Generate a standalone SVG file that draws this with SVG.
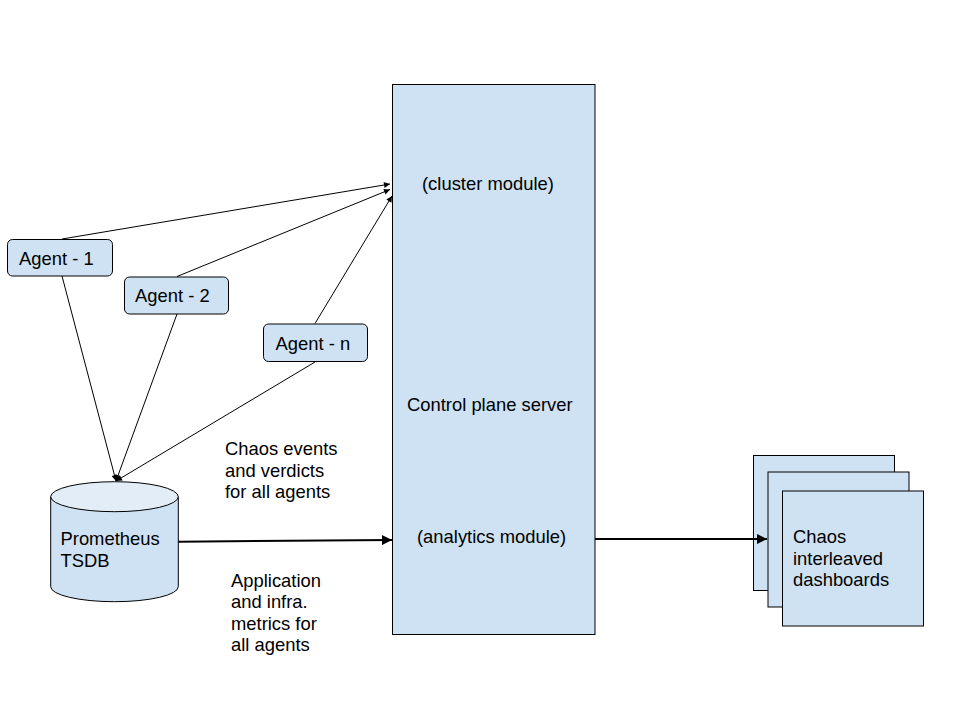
<svg xmlns="http://www.w3.org/2000/svg" width="960" height="720" viewBox="0 0 960 720">
<defs>
<style>
.box{fill:#cfe2f3;stroke:#000;stroke-width:1}
.t{font-family:"Liberation Sans",Arial,sans-serif;font-size:18.4px;fill:#000}
.thin{stroke:#000;stroke-width:1;fill:none}
.thick{stroke:#000;stroke-width:2;fill:none}
</style>
<marker id="ah" viewBox="0 0 10 10" refX="10" refY="5" markerWidth="7" markerHeight="6" markerUnits="userSpaceOnUse" orient="auto">
<path d="M0,0 L10,5 L0,10 Z" fill="#000"/>
</marker>
<marker id="ahb" viewBox="0 0 10 10" refX="10" refY="5" markerWidth="14" markerHeight="10" markerUnits="userSpaceOnUse" orient="auto">
<path d="M0,0 L10,5 L0,10 Z" fill="#000"/>
</marker>
</defs>
<rect width="960" height="720" fill="#fff"/>

<g id="control-plane">
<rect class="box" x="392.5" y="84.5" width="202.5" height="550"/>
<text class="t" x="422" y="190">(cluster module)</text>
<text class="t" x="407" y="411">Control plane server</text>
<text class="t" x="417" y="543">(analytics module)</text>
</g>

<g id="agent-1">
<rect class="box" x="7.5" y="239.5" width="105" height="36.5" rx="5"/>
<text class="t" x="19" y="264.5">Agent - 1</text>
</g>
<g id="agent-2">
<rect class="box" x="124.5" y="277" width="104" height="37" rx="5"/>
<text class="t" x="135" y="302">Agent - 2</text>
</g>
<g id="agent-n">
<rect class="box" x="263.5" y="324" width="104" height="37.5" rx="5"/>
<text class="t" x="275.5" y="350">Agent - n</text>
</g>

<g id="prometheus">
<path class="box" d="M50.7,496.7 V586.7 A63.8,15 0 0 0 178.3,586.7 V496.7"/>
<ellipse cx="114.5" cy="496.7" rx="63.8" ry="15" fill="#e3edf8" stroke="#000" stroke-width="1"/>
<text class="t" x="60.5" y="545">Prometheus</text>
<text class="t" x="60.5" y="566.5">TSDB</text>
</g>

<g id="dashboards">
<rect class="box" x="753.5" y="455.5" width="141" height="135"/>
<rect class="box" x="768" y="472" width="141" height="135"/>
<rect class="box" x="782.5" y="491" width="141" height="135"/>
<text class="t" x="793" y="543">Chaos</text>
<text class="t" x="793" y="564.5">interleaved</text>
<text class="t" x="793" y="586">dashboards</text>
</g>

<g id="labels">
<text class="t" x="225" y="455">Chaos events</text>
<text class="t" x="225" y="476.7">and verdicts</text>
<text class="t" x="225" y="498.3">for all agents</text>
<text class="t" x="231" y="586.7">Application</text>
<text class="t" x="231" y="608.2">and infra.</text>
<text class="t" x="231" y="629.7">metrics for</text>
<text class="t" x="231" y="651.2">all agents</text>
</g>

<g id="connectors">
<line class="thin" x1="62" y1="239" x2="390" y2="184" marker-end="url(#ah)"/>
<line class="thin" x1="177" y1="276.5" x2="390" y2="189.5" marker-end="url(#ah)"/>
<line class="thin" x1="315" y1="323.5" x2="392" y2="196" marker-end="url(#ah)"/>
<line class="thin" x1="62" y1="276" x2="116" y2="481" marker-end="url(#ah)"/>
<line class="thin" x1="177" y1="314" x2="116" y2="481" marker-end="url(#ah)"/>
<line class="thin" x1="315" y1="362" x2="116" y2="481" marker-end="url(#ah)"/>
<line class="thick" x1="178.5" y1="541.7" x2="392" y2="540" marker-end="url(#ahb)"/>
<line class="thick" x1="595" y1="539" x2="767" y2="539" marker-end="url(#ahb)"/>
</g>
</svg>
